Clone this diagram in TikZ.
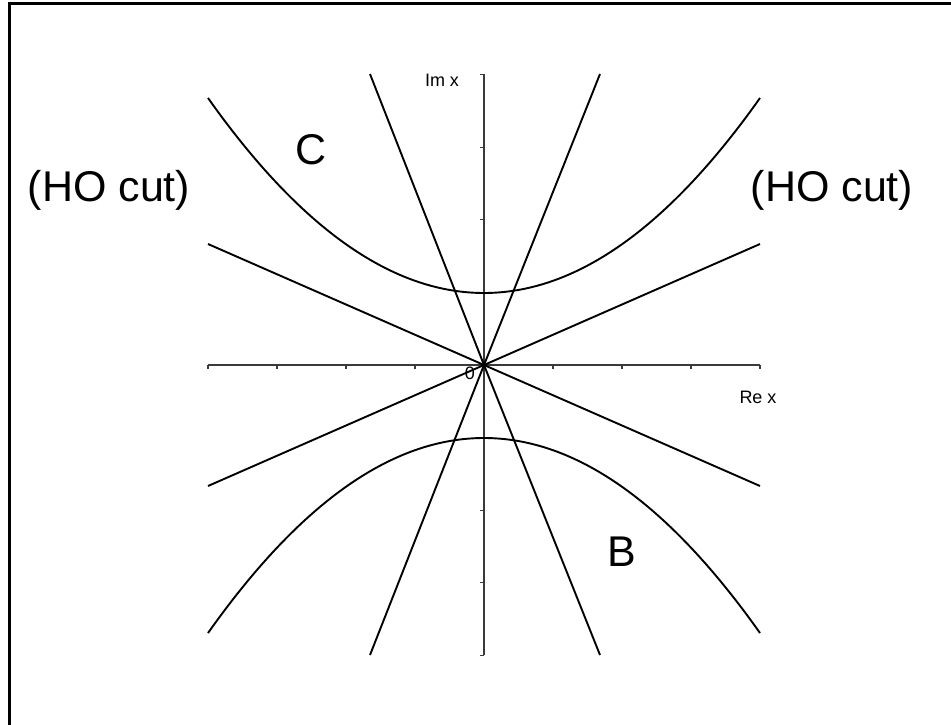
\documentclass[tikz,border=0pt]{standalone}
\usepackage{fontspec}
\setmainfont{Liberation Sans}
\usepackage{xcolor}
\usetikzlibrary{positioning}
\definecolor{grisEje}{HTML}{3A3A3A}

\begin{document}
\begin{tikzpicture}[
    x=1pt, y=-1pt,
    marco/.style={line width=3pt, black},
    eje/.style={line width=1.2pt, color=grisEje},
    curva/.style={line width=1.9pt, black},
    chico/.style={font=\fontsize{18}{18}\selectfont, inner sep=0pt},
    grande/.style={font=\fontsize{43}{43}\selectfont, inner sep=0pt},
]
\useasboundingbox (0,0) rectangle (951,725);
\draw[marco] (9,725) |- (951,4);

% ejes
\coordinate (O) at (484,365);
\draw[eje] (208,365) -- (760,365);
\draw[eje] (484,74) -- (484,655);
\foreach \i in {-4,...,4} \draw[eje] (484+69*\i,365) -- ++(0,4);
\foreach \i in {-4,...,4} \draw[eje] (484,365+72.6*\i) -- ++(-4,0);

% rectas por el origen
\draw[curva] (370,74) -- (O) -- (600,655);
\draw[curva] (600,74) -- (O) -- (370,655);
\draw[curva] (208,244) -- (O) -- (760,486);
\draw[curva] (208,486) -- (O) -- (760,244);

% contornos
\draw[curva] plot[domain=208:760, samples=90] (\x, {293 - 25.6*((\x-484)/100)^2});
\draw[curva] plot[domain=208:760, samples=90] (\x, {438 + 25.6*((\x-484)/100)^2});

\node[chico] (imx)  at (442,80)  {Im x};
\node[chico] (rex)  at (758,397) {Re x};
\node[chico] (cero) at (470,373) {0};
\node[grande] (hoIzq) at (109,190) {(HO cut)};
\node[grande] (hoDer) at (832,190) {(HO cut)};
\node[grande] (C) at (311,150) {C};
\node[grande] (B) at (622,552) {B};

\end{tikzpicture}
\end{document}
